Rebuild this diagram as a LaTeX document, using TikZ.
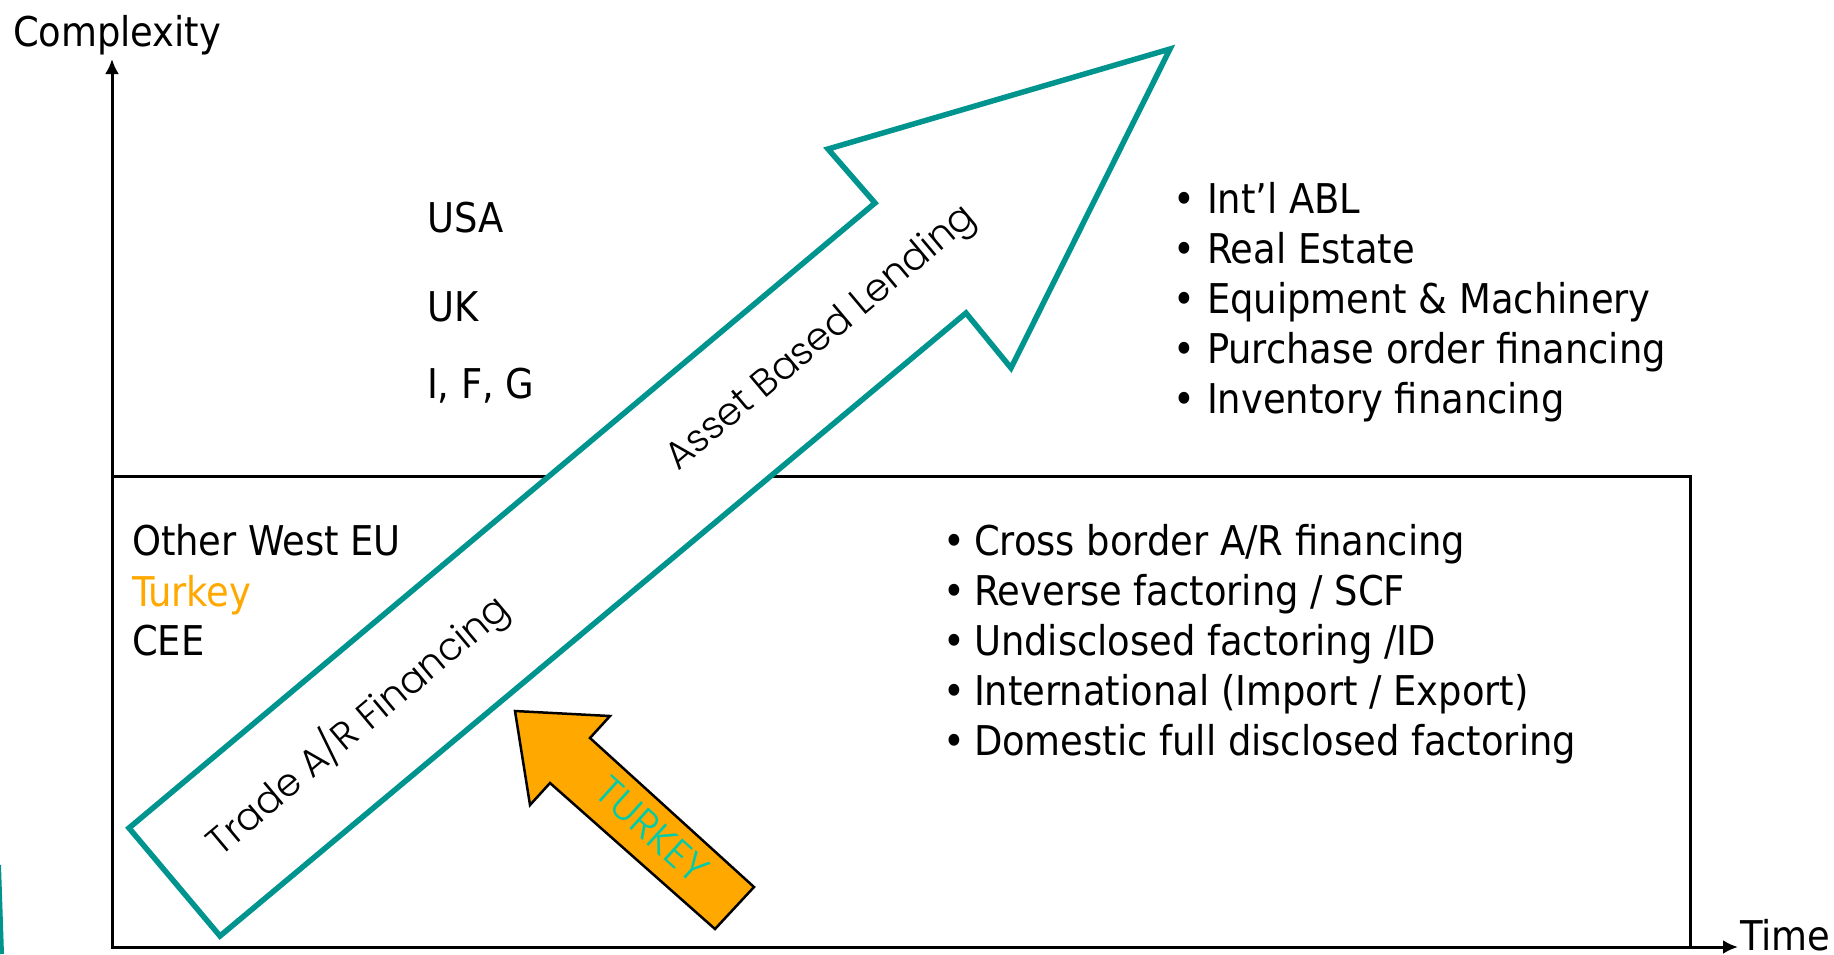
\documentclass[tikz,border=0pt]{standalone}
\usepackage{fontspec}
\IfFontExistsTF{DejaVu Sans Condensed}{\setmainfont{DejaVu Sans Condensed}}{\setmainfont{DejaVu Sans}[FakeStretch=0.9]}
\IfFontExistsTF{Poppins Light}{\newfontfamily\thinfont{Poppins Light}}{\newfontfamily\thinfont{Poppins}}
\usetikzlibrary{arrows.meta}
\definecolor{tealA}{RGB}{0,148,143}
\definecolor{orng}{RGB}{255,168,0}
\definecolor{turq}{RGB}{0,204,170}
\begin{document}
\begin{tikzpicture}[x=0.5pt,y=-0.5pt,
  every node/.style={inner sep=0pt,outer sep=0pt},
  txt/.style={anchor=base west,font=\fontsize{20.5pt}{25pt}\selectfont},
  blt/.style={anchor=base,font=\fontsize{20.5pt}{25pt}\selectfont},
  lbl/.style={font=\thinfont\fontsize{19.2pt}{23pt}\selectfont,rotate=40},
  axisline/.style={line width=1.5pt,-{Latex[length=7.5pt,width=7pt]}},
  bigarrow/.style={line width=2.75pt,draw=tealA,fill=white,line join=miter},
  smallarrow/.style={line width=1.25pt,draw=black,fill=orng,line join=miter}]
\useasboundingbox (0,0) rectangle (1834,954);
% teal sliver at left edge
\draw[tealA,line width=2pt] (-1,865) .. controls (1,910) .. (2,954);
% box and axes
\coordinate (O) at (112,947);
\coordinate (ytip) at (112,59);
\coordinate (xtip) at (1738,947);
\draw[line width=1.5pt] (112,476) rectangle (1690,947);
\draw[axisline] (O) -- (ytip);
\draw[axisline] (O) -- (xtip);
\node[txt] (cx) at (13,46) {Complexity};
\node[txt] (tm) at (1740,950) {Time};
% big arrow
\draw[bigarrow] (129,828) -- (875,203) -- (828,149) -- (1170,49) -- (1011,368) -- (966,313) -- (220,936) -- cycle;
\node[lbl] (tar) at (358,725) {Trade A/R Financing};
\node[lbl] (abl) at (822,339) {Asset Based Lending};
% turkey arrow
\draw[smallarrow] (515,711) -- (610,716) -- (590,738) -- (754,887) -- (715,929) -- (550,783) -- (530,805) -- cycle;
\node[font=\thinfont\fontsize{20pt}{24pt}\selectfont,text=turq,rotate=-42] (tk) at (652,830) {TURKEY};
% countries
\node[txt] (usa) at (427,232) {USA};
\node[txt] (uk) at (427,321) {UK};
\node[txt] (ifg) at (427,398) {I, F, G};
\node[txt] (owe) at (132,555) {Other West EU};
\node[txt,text=orng] (tur) at (132,606) {Turkey};
\node[txt] (cee) at (132,655) {CEE};
% upper list
\foreach \t [count=\i] in {Int’l ABL,Real Estate,Equipment \& Machinery,Purchase order financing,Inventory financing}{
  \node[blt] (ub\i) at (1184,163+50*\i) {•};
  \node[txt] (ut\i) at (1207,163+50*\i) {\t};
}
% lower list
\foreach \t [count=\i] in {Cross border A/R financing,Reverse factoring / SCF,Undisclosed factoring /ID,International (Import / Export),Domestic full disclosed factoring}{
  \node[blt] (lb\i) at (954,505+50*\i) {•};
  \node[txt] (lt\i) at (974,505+50*\i) {\t};
}
\end{tikzpicture}
\end{document}
